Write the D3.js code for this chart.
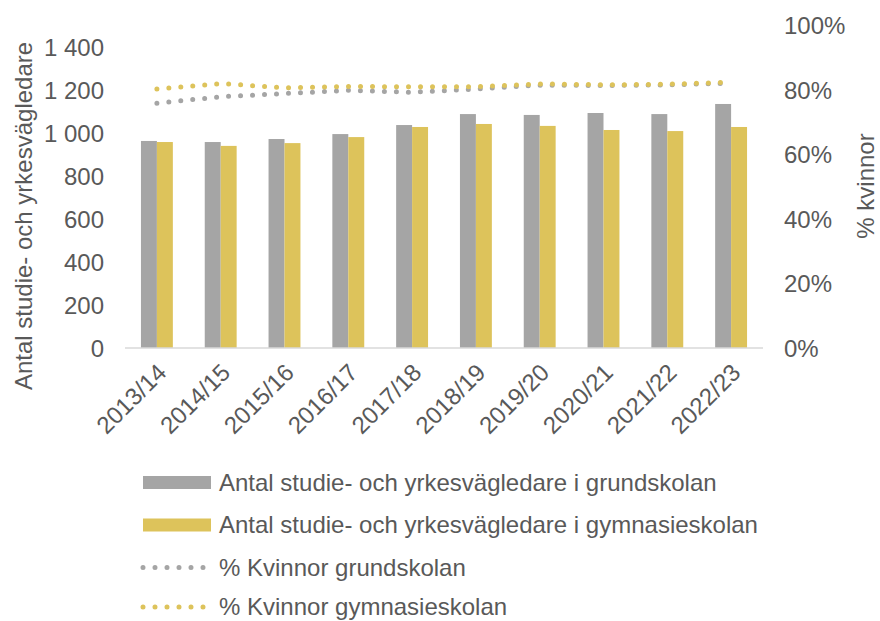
<!DOCTYPE html>
<html><head><meta charset="utf-8">
<script src="https://cdn.jsdelivr.net/npm/d3@7"></script>
<style>
html,body{margin:0;padding:0;background:#fff;}
svg{display:block;font-family:"Liberation Sans",Arial,sans-serif;}
</style></head>
<body><svg id="c" width="880" height="621"></svg>
<script>
const categories = ["2013/14","2014/15","2015/16","2016/17","2017/18","2018/19","2019/20","2020/21","2021/22","2022/23"];
const grundskolan = [963, 958, 972, 995, 1037, 1088, 1084, 1093, 1088, 1135];
const gymnasieskolan = [958, 940, 953, 981, 1028, 1042, 1033, 1014, 1009, 1028];
const kvinnorGrund = [0.759, 0.779, 0.789, 0.799, 0.793, 0.803, 0.815, 0.814, 0.816, 0.821];
const kvinnorGymn = [0.803, 0.820, 0.807, 0.811, 0.810, 0.810, 0.819, 0.816, 0.818, 0.824];
const leftTicks = [0, 200, 400, 600, 800, 1000, 1200, 1400];
const rightTicks = [0, 0.2, 0.4, 0.6, 0.8, 1.0];
const legendLabels = [
  "Antal studie- och yrkesvägledare i grundskolan",
  "Antal studie- och yrkesvägledare i gymnasieskolan",
  "% Kvinnor grundskolan",
  "% Kvinnor gymnasieskolan"
];
const leftTitle = "Antal studie- och yrkesvägledare";
const rightTitle = "% kvinnor";

const GRAY = "#A5A5A5", GOLD = "#DDC35B", TEXT = "#595959", AXIS = "#D9D9D9";
const FONT = '"Liberation Sans",Arial,sans-serif';
const svg = d3.select("#c");
const L = 125, R = 763, T = 25.5, B = 348;

const x = d3.scaleBand().domain(categories).range([L, R]).paddingInner(0).paddingOuter(0);
const yL = d3.scaleLinear().domain([0, 1500]).range([B, T]);
const yR = d3.scaleLinear().domain([0, 1]).range([B, T]);
const bw = x.bandwidth() * 0.25;

// bars
svg.append("g").selectAll("rect").data(categories).join("rect")
  .attr("x", d => x(d) + x.bandwidth()/2 - bw)
  .attr("y", (d,i) => yL(grundskolan[i]))
  .attr("width", bw)
  .attr("height", (d,i) => B - yL(grundskolan[i]))
  .attr("fill", GRAY);
svg.append("g").selectAll("rect").data(categories).join("rect")
  .attr("x", d => x(d) + x.bandwidth()/2)
  .attr("y", (d,i) => yL(gymnasieskolan[i]))
  .attr("width", bw)
  .attr("height", (d,i) => B - yL(gymnasieskolan[i]))
  .attr("fill", GOLD);

// x axis line
svg.append("line").attr("x1", L).attr("x2", R).attr("y1", B).attr("y2", B)
  .attr("stroke", AXIS).attr("stroke-width", 1.5);

// lines
const line = d3.line().x((d,i) => x(categories[i]) + x.bandwidth()/2).y(d => yR(d));
[[kvinnorGrund, GRAY], [kvinnorGymn, GOLD]].forEach(([data, col]) => {
  svg.append("path").datum(data).attr("d", line)
    .attr("fill", "none").attr("stroke", col).attr("stroke-width", 5)
    .attr("stroke-linecap", "round").attr("stroke-dasharray", "0,12");
});

// left axis ticks
const lAxis = d3.axisLeft(yL).tickValues(leftTicks).tickSize(0).tickPadding(0)
  .tickFormat(d => d3.format(",")(d).replace(/,/g, " "));
const gl = svg.append("g").attr("transform", `translate(104,0)`).call(lAxis);
gl.select(".domain").remove();
gl.selectAll("text").attr("fill", TEXT).style("font-size", "24px").attr("dy", "0.35em")
  .style("font-family", FONT);

// right axis ticks
const rAxis = d3.axisRight(yR).tickValues(rightTicks).tickSize(0).tickPadding(0)
  .tickFormat(d3.format(".0%"));
const gr = svg.append("g").attr("transform", `translate(784,0)`).call(rAxis);
gr.select(".domain").remove();
gr.selectAll("text").attr("fill", TEXT).style("font-size", "24px").attr("dy", "0.35em")
  .style("font-family", FONT);

// x axis labels
svg.append("g").selectAll("text").data(categories).join("text")
  .attr("transform", d => `translate(${x(d) + x.bandwidth()/2 + 5},${B + 20}) rotate(-45)`)
  .attr("text-anchor", "end").attr("dy", "0.35em")
  .attr("fill", TEXT).style("font-size", "24px").text(d => d);

// axis titles
svg.append("text").attr("transform", `translate(32,216) rotate(-90)`)
  .attr("text-anchor", "middle").attr("fill", TEXT).style("font-size", "24px").text(leftTitle);
svg.append("text").attr("transform", `translate(874,186) rotate(-90)`)
  .attr("text-anchor", "middle").attr("fill", TEXT).style("font-size", "24px").text(rightTitle);

// legend
const lg = svg.append("g");
const ly = [482.5, 525, 567.5, 607];
const lcols = [GRAY, GOLD, GRAY, GOLD];
legendLabels.forEach((t, i) => {
  if (i < 2) {
    lg.append("rect").attr("x", 143).attr("y", ly[i] - 6.5).attr("width", 68).attr("height", 13).attr("fill", lcols[i]);
  } else {
    lg.append("line").attr("x1", 143).attr("x2", 211).attr("y1", ly[i]).attr("y2", ly[i])
      .attr("stroke", lcols[i]).attr("stroke-width", 5).attr("stroke-linecap", "round")
      .attr("stroke-dasharray", "0,12");
  }
  lg.append("text").attr("x", 219).attr("y", ly[i]).attr("dy", "0.35em")
    .attr("fill", TEXT).style("font-size", "24px").text(t);
});
</script></body></html>
